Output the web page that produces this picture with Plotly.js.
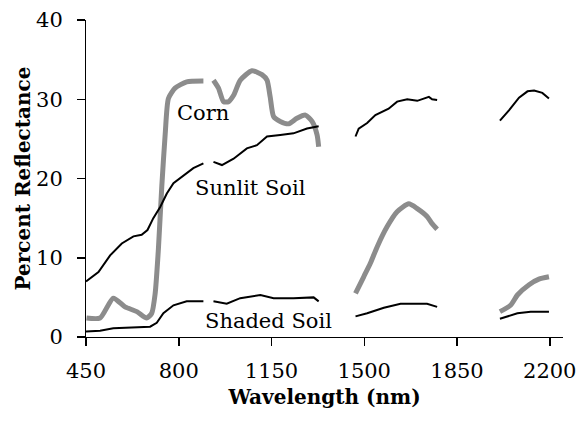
<!DOCTYPE html>
<html>
<head>
<meta charset="utf-8">
<script src="https://cdn.plot.ly/plotly-3.0.1.min.js"></script>
<style>html,body{margin:0;padding:0;background:#fff;}#chart{width:578px;height:421px;}</style>
</head>
<body>
<div id="chart"></div>
<script>
// Wavelength (nm) and percent reflectance; null marks gaps (water absorption bands)
var cornX = [452,503,553,597,642,679,698,711,723,736,749,761,786,830,893,null,931,950,969,988,1007,1032,1076,1114,1133,1145,1158,1183,1215,1246,1278,1303,1322,1328,null,1467,1498,1523,1549,1586,1624,1668,1700,1737,1756,1775,null,2012,2052,2078,2122,2159,2197];
var cornY = [2.4,2.4,4.9,3.8,3.2,2.4,3.0,5.5,11,19,25.7,30.1,31.4,32.2,32.3,null,32.4,31.4,29.7,29.7,30.5,32.4,33.6,33.1,32.4,30.3,27.8,27.2,26.9,27.6,28.0,27.2,25.5,24.0,null,5.5,7.6,9.3,11.4,13.9,15.8,16.8,16.2,15.2,14.3,13.6,null,3.2,4.0,5.3,6.6,7.3,7.6];

var sunlitX = [450,497,541,585,629,660,682,704,730,755,780,818,855,893,null,931,963,1007,1057,1095,1133,1183,1233,1284,1328,null,1467,1479,1511,1542,1592,1624,1662,1700,1744,1756,1775,null,2012,2046,2084,2116,2141,2172,2197];
var sunlitY = [7.0,8.2,10.3,11.8,12.7,12.9,13.5,15.0,16.4,18.1,19.4,20.4,21.3,21.9,null,22.1,21.7,22.5,23.8,24.2,25.3,25.5,25.7,26.3,26.6,null,25.3,26.3,27.0,28.0,28.8,29.7,30.0,29.8,30.3,30.0,29.9,null,27.3,28.6,30.2,31.0,31.1,30.8,30.1];

var shadedX = [450,503,553,616,692,717,742,780,830,893,null,931,981,1032,1108,1158,1233,1309,1328,null,1467,1511,1574,1637,1737,1775,null,2012,2078,2128,2197];
var shadedY = [0.7,0.8,1.1,1.2,1.3,1.8,3.0,4.0,4.5,4.5,null,4.5,4.2,4.9,5.3,4.9,4.9,5.0,4.5,null,2.6,3.0,3.7,4.2,4.2,3.8,null,2.3,3.0,3.2,3.2];

var seriesNames = ["Corn", "Sunlit Soil", "Shaded Soil"];
var tickVals = [450, 800, 1150, 1500, 1850, 2200];
var yTickVals = [0, 10, 20, 30, 40];

var font = "DejaVu Serif";

var traces = [
  {x: cornX, y: cornY, name: seriesNames[0], mode: "lines", connectgaps: false,
   line: {color: "#8c8c8c", width: 5, shape: "spline", smoothing: 0.6}},
  {x: sunlitX, y: sunlitY, name: seriesNames[1], mode: "lines", connectgaps: false,
   line: {color: "#000000", width: 2}},
  {x: shadedX, y: shadedY, name: seriesNames[2], mode: "lines", connectgaps: false,
   line: {color: "#000000", width: 2}}
];

var layout = {
  width: 578, height: 421,
  margin: {l: 86, r: 15, t: 20, b: 84},
  paper_bgcolor: "#ffffff", plot_bgcolor: "#ffffff",
  showlegend: false,
  font: {family: font, size: 21, color: "#000"},
  xaxis: {
    range: [450, 2250], tickvals: tickVals, ticktext: tickVals.map(String),
    showgrid: false, zeroline: false, showline: true, linecolor: "#000", linewidth: 1,
    ticks: "outside", ticklen: 8, tickcolor: "#000", tickwidth: 1.5,
    tickfont: {family: font, size: 21, color: "#000"},
    ticklabelstandoff: 7,
    title: {text: "<b>Wavelength (nm)</b>", font: {family: font, size: 20, color: "#000"}, standoff: 7}
  },
  yaxis: {
    range: [0, 40], tickvals: yTickVals, ticktext: yTickVals.map(String),
    showgrid: false, zeroline: false, showline: true, linecolor: "#000", linewidth: 1,
    ticks: "outside", ticklen: 8, tickcolor: "#000", tickwidth: 1.5,
    tickfont: {family: font, size: 21, color: "#000"},
    ticklabelstandoff: 10,
    title: {text: "<b>Percent Reflectance</b>", font: {family: font, size: 20, color: "#000"}, standoff: 0}
  },
  annotations: [
    {x: 892, y: 28.3, xref: "x", yref: "y", text: seriesNames[0], showarrow: false, font: {family: font, size: 21, color: "#000"}},
    {x: 1069, y: 18.8, xref: "x", yref: "y", text: seriesNames[1], showarrow: false, font: {family: font, size: 21, color: "#000"}},
    {x: 1137, y: 2.0, xref: "x", yref: "y", text: seriesNames[2], showarrow: false, font: {family: font, size: 21, color: "#000"}}
  ]
};

Plotly.newPlot("chart", traces, layout, {staticPlot: true, displayModeBar: false});
</script>
</body>
</html>
